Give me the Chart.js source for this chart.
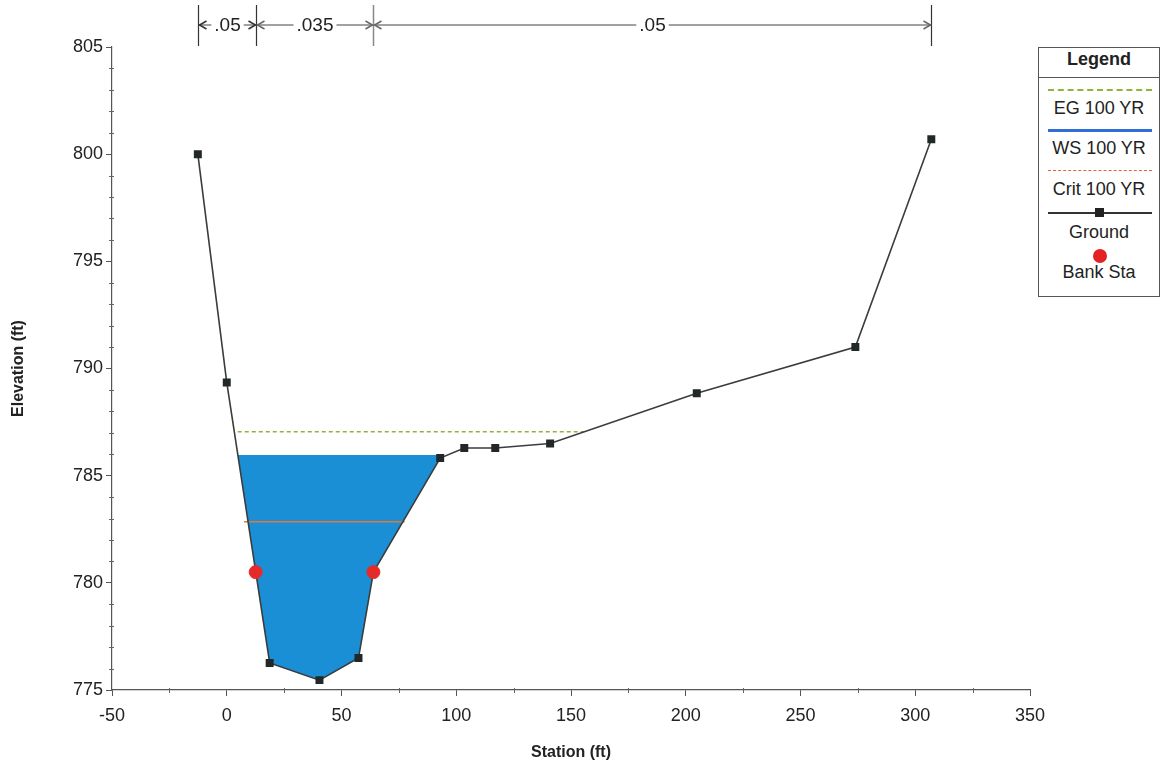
<!DOCTYPE html>
<html>
<head>
<meta charset="utf-8">
<script src="https://cdn.jsdelivr.net/npm/chart.js@4"></script>
<style>
  body { margin: 0; background: #fff; font-family: "Liberation Sans", Arial, sans-serif; }
  #wrap { position: relative; width: 1163px; height: 769px; }
  #chart { position: absolute; left: 0; top: 0; }
  #legend { position: absolute; left: 1038px; top: 47px; width: 120px; height: 248px;
            border: 1px solid #555; background: #fff; color: #222; font-size: 18px; }
  #legend .item { position: absolute; left: 0; width: 120px; text-align: center; }
  #legend .ttl { font-weight: bold; top: 1px; }
  #legend .sep { position: absolute; left: 0; width: 120px; top: 29px; border-top: 1px solid #555; }
  .sample { position: absolute; left: 9px; width: 104px; }
</style>
</head>
<body>
<div id="wrap">
  <canvas id="chart" width="1163" height="769"></canvas>
  <div id="legend">
    <div class="item ttl">Legend</div>
    <div class="sep"></div>
    <div class="sample" style="top:41px;border-top:2px dashed #8fb43a;"></div>
    <div class="item" style="top:50px">EG 100 YR</div>
    <div class="sample" style="top:81px;border-top:3px solid #2f6fd6;"></div>
    <div class="item" style="top:90px">WS 100 YR</div>
    <div class="sample" style="top:122px;border-top:1px dashed #e8603a;"></div>
    <div class="item" style="top:131px">Crit 100 YR</div>
    <div class="sample" style="top:164px;border-top:2px solid #333;"></div>
    <div style="position:absolute;left:56px;top:160px;width:9px;height:9px;background:#222;"></div>
    <div class="item" style="top:174px">Ground</div>
    <div style="position:absolute;left:54px;top:201px;width:14px;height:14px;border-radius:7px;background:#e52222;"></div>
    <div class="item" style="top:214px">Bank Sta</div>
  </div>
</div>
<script>
// ground profile (station ft, elevation ft)
var groundSta  = [-12.6, 0, 18.7, 40.4, 57.4, 63.9, 93, 103.5, 117, 140.9, 204.8, 273.9, 307];
var groundElev = [800, 789.35, 776.26, 775.46, 776.49, 780.5, 785.82, 786.29, 786.29, 786.5, 788.85, 791.0, 800.7];

var bankSta  = [12.6, 63.9];
var bankElev = [780.5, 780.5];

var wsElev = 785.96;
var wsLeft = 4.8, wsRight = 94;

var egElev = 787.05;
var egLeft = 4.8, egRight = 155.5;

var critElev = 782.85;
var critLeft = 7.5, critRight = 77.5;

// manning's n breaks along the top
var nBreaks = [-12.6, 12.6, 63.9, 307];
var nValues = ['.05', '.035', '.05'];

var xTicks = [-50, 0, 50, 100, 150, 200, 250, 300, 350];
var yTicks = [775, 780, 785, 790, 795, 800, 805];

function pts(xs, ys) {
    return xs.map(function(x, i) { return {x: x, y: ys[i]}; });
}

var groundPts = pts(groundSta, groundElev);

var waterPts = [{x: wsLeft, y: wsElev}];
groundPts.forEach(function(p) {
    if (p.x > wsLeft && p.x < wsRight) waterPts.push(p);
});
waterPts.push({x: wsRight, y: wsElev});

var topAnnotation = {
    id: 'topAnnotation',
    afterDraw: function(chart) {
        var ctx = chart.ctx;
        var xs = chart.scales.x;
        var px = nBreaks.map(function(s) { return Math.round(xs.getPixelForValue(s)) + 0.5; });
        var yLine = 25;
        ctx.save();
        ctx.lineWidth = 1;
        ctx.strokeStyle = '#444';
        ctx.beginPath();
        ctx.moveTo(px[0], yLine);
        ctx.lineTo(px[px.length - 1], yLine);
        ctx.stroke();
        px.forEach(function(p, i) {
            ctx.strokeStyle = (i == 2) ? '#888' : '#333';
            ctx.lineWidth = (i == 2) ? 1.5 : 1.2;
            ctx.beginPath();
            ctx.moveTo(p, 5);
            ctx.lineTo(p, 46);
            ctx.stroke();
        });
        ctx.font = '19px "Liberation Sans", Arial, sans-serif';
        ctx.textAlign = 'center';
        ctx.textBaseline = 'middle';
        for (var i = 0; i < nValues.length; i++) {
            var a = px[i], b = px[i + 1];
            ctx.strokeStyle = (i == 0) ? '#333' : '#666';
            ctx.lineWidth = 1.5;
            // arrowheads pointing out to the breaks
            ctx.beginPath();
            ctx.moveTo(a + 8, yLine - 4); ctx.lineTo(a + 1, yLine); ctx.lineTo(a + 8, yLine + 4);
            ctx.moveTo(b - 8, yLine - 4); ctx.lineTo(b - 1, yLine); ctx.lineTo(b - 8, yLine + 4);
            ctx.stroke();
            var cx = (a + b) / 2;
            var w = ctx.measureText(nValues[i]).width;
            ctx.fillStyle = '#fff';
            ctx.fillRect(cx - w / 2 - 3, yLine - 9, w + 6, 18);
            ctx.fillStyle = '#222';
            ctx.fillText(nValues[i], cx, yLine + 1);
        }
        ctx.restore();
    }
};

var minorTicks = {
    id: 'minorTicks',
    afterDraw: function(chart) {
        var ctx = chart.ctx;
        var xs = chart.scales.x, ys = chart.scales.y;
        var area = chart.chartArea;
        ctx.save();
        ctx.strokeStyle = '#666';
        ctx.lineWidth = 1;
        ctx.beginPath();
        for (var v = 776; v < 805; v++) {
            if (v % 5 == 0) continue;
            var y = Math.round(ys.getPixelForValue(v)) + 0.5;
            ctx.moveTo(area.left - 3, y);
            ctx.lineTo(area.left + 2, y);
        }
        for (var s = -25; s < 350; s += 50) {
            var x = Math.round(xs.getPixelForValue(s)) + 0.5;
            ctx.moveTo(x, area.bottom - 2);
            ctx.lineTo(x, area.bottom + 3);
        }
        ctx.stroke();
        ctx.restore();
    }
};

var tickFont = {family: '"Liberation Sans", Arial, sans-serif', size: 18};
var titleFont = {family: '"Liberation Sans", Arial, sans-serif', size: 16, weight: 'bold'};

new Chart(document.getElementById('chart').getContext('2d'), {
    type: 'scatter',
    data: {
        datasets: [
            {
                label: 'WS 100 YR',
                data: waterPts,
                showLine: true,
                borderWidth: 0,
                borderColor: 'rgba(0,0,0,0)',
                backgroundColor: '#1b8fd6',
                pointRadius: 0,
                fill: {value: wsElev},
                order: 5
            },
            {
                label: 'EG 100 YR',
                data: [{x: egLeft, y: egElev}, {x: egRight, y: egElev}],
                showLine: true,
                borderColor: '#8fb43a',
                borderWidth: 1.5,
                borderDash: [4, 3],
                pointRadius: 0,
                order: 4
            },
            {
                label: 'Crit 100 YR',
                data: [{x: critLeft, y: critElev}, {x: critRight, y: critElev}],
                showLine: true,
                borderColor: '#e0773c',
                borderWidth: 1.5,
                pointRadius: 0,
                order: 3
            },
            {
                label: 'Ground',
                data: groundPts,
                showLine: true,
                borderColor: '#3a3d3d',
                borderWidth: 1.6,
                pointStyle: 'rect',
                pointRadius: function(c) {
                    return bankSta.indexOf(groundSta[c.dataIndex]) >= 0 ? 0 : 4.5;
                },
                pointBackgroundColor: '#222828',
                pointBorderColor: '#222828',
                order: 2
            },
            {
                label: 'Bank Sta',
                data: pts(bankSta, bankElev),
                pointRadius: 6.5,
                pointBackgroundColor: '#e62a2a',
                pointBorderColor: '#e62a2a',
                order: 1
            }
        ]
    },
    options: {
        responsive: false,
        animation: false,
        layout: {padding: {top: 47, right: 133, left: 0, bottom: 0}},
        plugins: {legend: {display: false}, tooltip: {enabled: false}},
        scales: {
            x: {
                type: 'linear',
                min: -50, max: 350,
                afterBuildTicks: function(s) { s.ticks = xTicks.map(function(v) { return {value: v}; }); },
                afterFit: function(s) { s.height = 79; },
                grid: {drawOnChartArea: false, color: '#555', tickLength: 6, tickColor: '#555'},
                border: {color: '#555', width: 1.2},
                ticks: {color: '#222', font: tickFont, padding: 9, maxRotation: 0},
                title: {display: true, text: 'Station (ft)', color: '#222', font: titleFont, padding: {top: 4, bottom: 7}}
            },
            y: {
                type: 'linear',
                min: 775, max: 805,
                afterBuildTicks: function(s) { s.ticks = yTicks.map(function(v) { return {value: v}; }); },
                afterFit: function(s) { s.width = 112; },
                grid: {drawOnChartArea: false, color: '#555', tickLength: 6, tickColor: '#555'},
                border: {color: '#555', width: 1.2},
                ticks: {color: '#222', font: tickFont, padding: 3},
                title: {display: true, text: 'Elevation (ft)', color: '#222', font: titleFont, padding: {top: 9, bottom: 4}}
            }
        }
    },
    plugins: [topAnnotation, minorTicks]
});
</script>
</body>
</html>
